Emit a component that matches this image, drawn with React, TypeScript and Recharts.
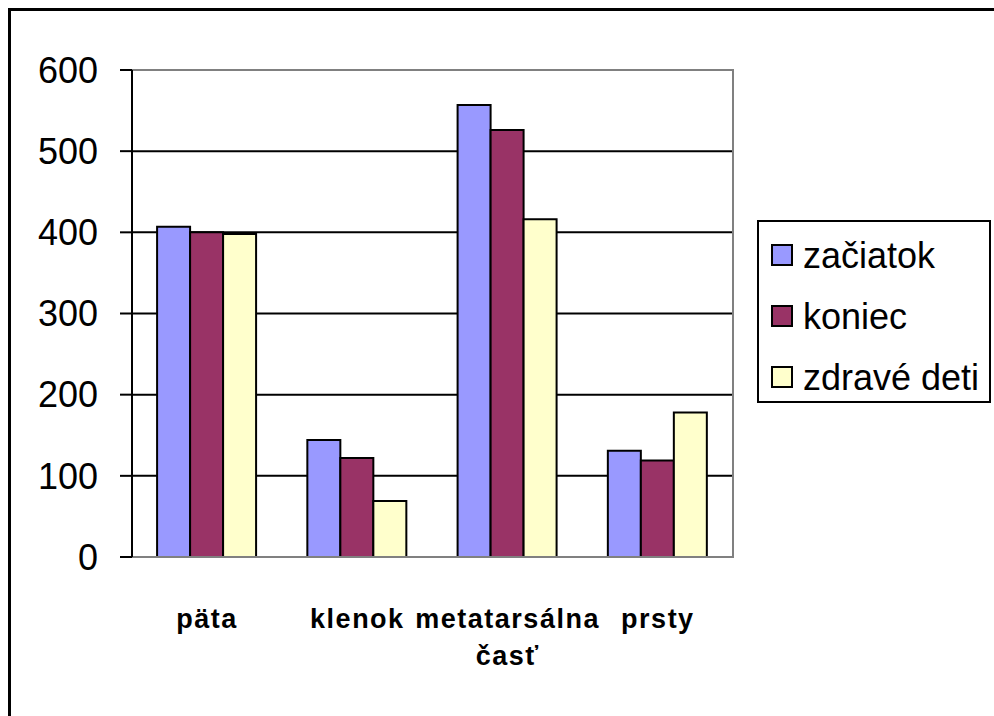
import React from 'react';
import { BarChart, Bar, XAxis, YAxis, CartesianGrid, Legend, ReferenceArea } from 'recharts';

const categories = ['päta', 'klenok', 'metatarsálna časť', 'prsty'];
const zaciatok = [407, 144, 557, 131];
const koniec = [400, 122, 526, 119];
const zdraveDeti = [398, 69, 416, 178];
const yTicks = [0, 100, 200, 300, 400, 500, 600];

const seriesInfo = [
    { key: 'zaciatok', name: 'začiatok', color: '#9999FF' },
    { key: 'koniec', name: 'koniec', color: '#993366' },
    { key: 'zdrave', name: 'zdravé deti', color: '#FFFFCC' },
];

const data = categories.map((name, i) => ({
    name,
    zaciatok: zaciatok[i],
    koniec: koniec[i],
    zdrave: zdraveDeti[i],
}));

const FONT = '"Liberation Sans", Arial, sans-serif';

const CategoryTick = (props: any) => {
    const { x, y, payload } = props;
    const lines = String(payload.value).split(' ');
    return (
        <text x={x} y={y} textAnchor="middle" fontFamily={FONT} fontSize={27} fontWeight="bold" letterSpacing={1.5} fill="#000">
            {lines.map((line, i) => (
                <tspan key={i} x={x} dy={i === 0 ? 71 : 37}>{line}</tspan>
            ))}
        </text>
    );
};

const LegendBox = () => (
    <div style={{
        boxSizing: 'border-box', width: 234, height: 183, border: '2px solid #000', background: '#fff',
        paddingTop: 3, paddingLeft: 12, fontFamily: FONT, fontSize: 36, color: '#000',
    }}>
        {seriesInfo.map(s => (
            <div key={s.key} style={{ lineHeight: '61px', height: 61, whiteSpace: 'nowrap' }}>
                <span style={{
                    display: 'inline-block', boxSizing: 'border-box', width: 22, height: 22,
                    border: '2px solid #000', background: s.color, verticalAlign: 'baseline',
                    marginBottom: 2, marginRight: 10,
                }} />
                {s.name}
            </div>
        ))}
    </div>
);

export default function App() {
    return (
        <div style={{ position: 'absolute', left: 0, top: 0, width: 994, height: 716, overflow: 'hidden', background: '#fff' }}>
            <div style={{ position: 'absolute', left: 8, top: 8, width: 1100, height: 900, border: '3px solid #000' }} />
            <div style={{ position: 'absolute', left: 0, top: 0 }}>
                <BarChart
                    width={994}
                    height={716}
                    data={data}
                    margin={{ top: 70, right: 261, bottom: 0, left: 32 }}
                    barCategoryGap="16.7%"
                    barGap={0}
                >
                    <CartesianGrid vertical={false} stroke="#000" strokeWidth={2} />
                    <ReferenceArea y1={0} y2={600} fill="none" stroke="#808080" strokeWidth={2} />
                    <XAxis
                        dataKey="name"
                        height={159}
                        tickSize={0}
                        tickMargin={0}
                        tickLine={false}
                        axisLine={{ stroke: '#808080', strokeWidth: 2 }}
                        tick={<CategoryTick />}
                        interval={0}
                    />
                    <YAxis
                        width={100}
                        domain={[0, 600]}
                        ticks={yTicks}
                        tickSize={12}
                        tickMargin={22}
                        axisLine={{ stroke: '#000', strokeWidth: 2 }}
                        tickLine={{ stroke: '#000', strokeWidth: 2 }}
                        tick={{ fill: '#000', fontSize: 36, fontFamily: FONT }}
                    />
                    <Legend
                        layout="vertical"
                        align="center"
                        verticalAlign="middle"
                        width={234}
                        height={183}
                        wrapperStyle={{ left: 757, top: 220 }}
                        content={<LegendBox />}
                    />
                    {seriesInfo.map(s => (
                        <Bar key={s.key} dataKey={s.key} name={s.name} fill={s.color} stroke="#000" strokeWidth={2} isAnimationActive={false} />
                    ))}
                </BarChart>
            </div>
        </div>
    );
}
